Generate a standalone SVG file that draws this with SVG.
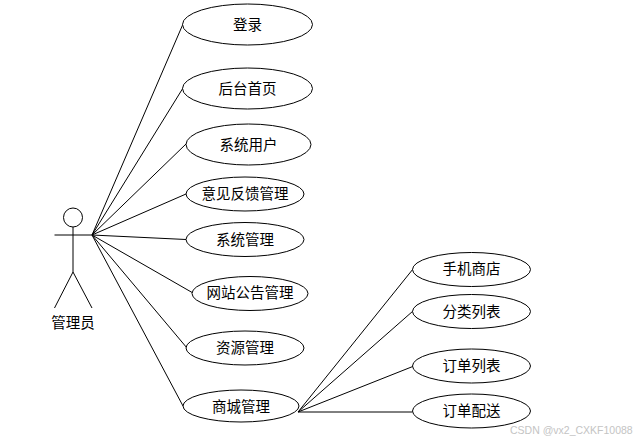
<svg xmlns="http://www.w3.org/2000/svg" width="642" height="441" viewBox="0 0 642 441">
<style>
.s{fill:#fff;stroke:#000;stroke-width:1}
.c{fill:none;stroke:#000;stroke-width:1}
text{font-family:"Noto Sans CJK SC","Liberation Sans",sans-serif;font-size:14.500px;fill:#000;text-anchor:middle}
.w{font-family:"Liberation Sans",sans-serif;font-size:10.500px;fill:#c4c4c4;text-anchor:start}
</style>
<rect width="642" height="441" fill="#fff"/>
<g id="connectors" class="c">
<path d="M92 235L183 24M92 235L183 88M92 235L186 144M92 235L186 194M92 235L186 239.500M92 235L193 293M92 235L187 348M92 235L183 406"/>
<path d="M298 412L413 269M298 412L413 311M298 412L414 366M298 412L412.500 412"/>
</g>
<g id="actor"><g class="c"><circle cx="73" cy="217.500" r="9.500"/><path d="M73 227V272M54.500 235H92M73 272L54.500 308M73 272L92 308"/></g><text x="73" y="328">管理员</text></g>
<g id="n1"><ellipse class="s" cx="247.500" cy="24.500" rx="65" ry="20.500"/><text x="247.500" y="30">登录</text></g>
<g id="n2"><ellipse class="s" cx="247.500" cy="88.500" rx="65" ry="20.500"/><text x="247.500" y="94">后台首页</text></g>
<g id="n3"><ellipse class="s" cx="248.500" cy="144.500" rx="62.500" ry="20.500"/><text x="248.500" y="150">系统用户</text></g>
<g id="n4"><ellipse class="s" cx="245" cy="194" rx="59" ry="17"/><text x="245" y="199">意见反馈管理</text></g>
<g id="n5"><ellipse class="s" cx="245" cy="239.500" rx="59" ry="17"/><text x="245" y="245">系统管理</text></g>
<g id="n6"><ellipse class="s" cx="250" cy="293.500" rx="58" ry="17"/><text x="250" y="298">网站公告管理</text></g>
<g id="n7"><ellipse class="s" cx="245" cy="348" rx="59" ry="17"/><text x="245" y="353">资源管理</text></g>
<g id="n8"><ellipse class="s" cx="241" cy="406" rx="58" ry="16"/><text x="241" y="412">商城管理</text></g>
<g id="n9"><ellipse class="s" cx="471.500" cy="269.500" rx="59" ry="17"/><text x="471.500" y="274">手机商店</text></g>
<g id="n10"><ellipse class="s" cx="471.500" cy="311.500" rx="59" ry="17"/><text x="471.500" y="317">分类列表</text></g>
<g id="n11"><ellipse class="s" cx="471.500" cy="366" rx="59" ry="17"/><text x="471.500" y="371">订单列表</text></g>
<g id="n12"><ellipse class="s" cx="471.500" cy="411" rx="59" ry="17"/><text x="471.500" y="416">订单配送</text></g>
<text class="w" x="510" y="434">CSDN @vx2_CXKF10088</text>
</svg>
